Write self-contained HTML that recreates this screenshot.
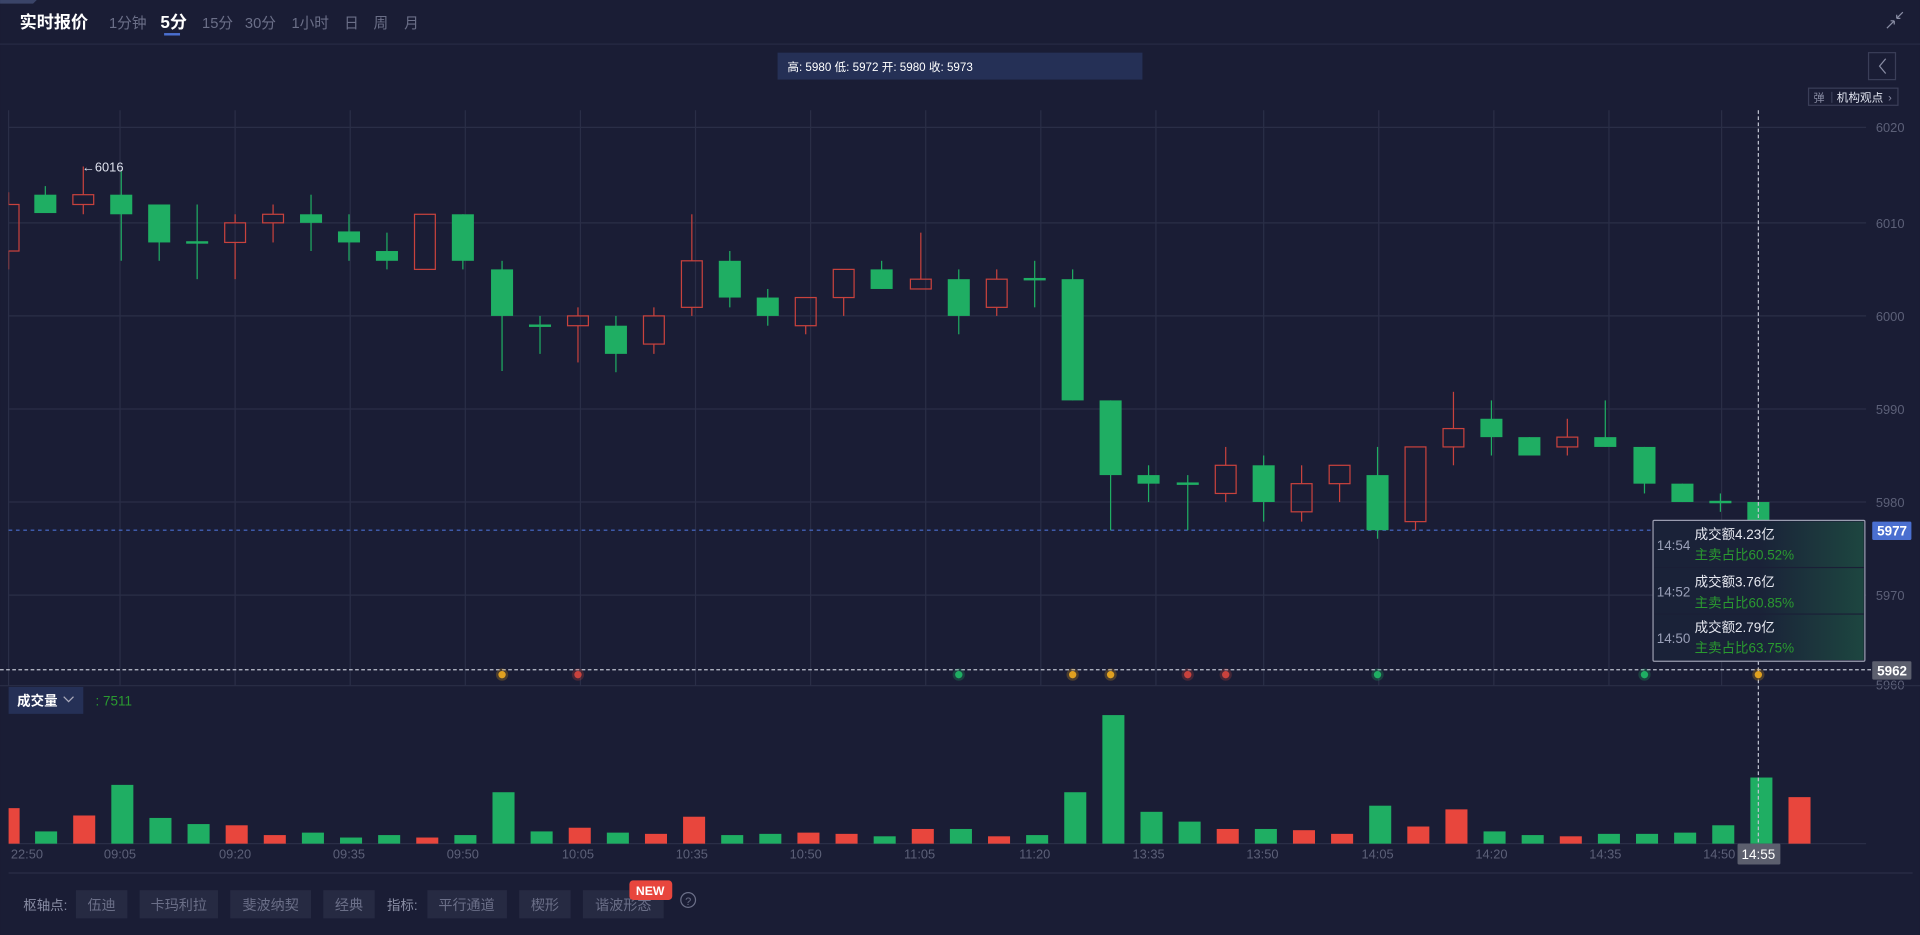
<!DOCTYPE html>
<html><head><meta charset="utf-8"><style>
html,body{margin:0;padding:0;background:#1a1d35;width:1920px;height:935px;overflow:hidden}
svg{display:block}
text{font-family:"Liberation Sans","Noto Sans CJK SC",sans-serif}
</style></head><body>
<svg id="s" width="1920" height="935" viewBox="0 0 1568 763.6" xmlns="http://www.w3.org/2000/svg">
<rect width="1568" height="764" fill="#1a1d35"/>
<defs><clipPath id="pc"><rect x="7" y="80" width="1530" height="620"/></clipPath>
<linearGradient id="tg" x1="0" x2="1"><stop offset="0.5" stop-color="#1a2238"/><stop offset="1" stop-color="#1d4640"/></linearGradient></defs>
<path d="M0 0H30L27 3H0Z" fill="#3a4468"/>
<text x="16" y="23" fill="#fff" font-size="14" font-weight="bold">实时报价</text>
<g fill="#6b6f88" font-size="12">
<text x="89" y="23">1分钟</text><text x="165" y="23">15分</text><text x="200" y="23">30分</text><text x="238" y="23">1小时</text><text x="281" y="23">日</text><text x="305" y="23">周</text><text x="330" y="23">月</text></g>
<text x="131" y="23" fill="#fff" font-size="14" font-weight="bold">5分</text>
<rect x="134" y="27" width="13" height="2" fill="#4a6fd0"/>
<path d="M1541 23l6-6M1547 17v3M1547 17h-3M1549 15l5-5M1549 15h3M1549 15v-3" stroke="#8a8ea5" stroke-width="1" fill="none"/>
<line x1="0" y1="36" x2="1568" y2="36" stroke="#262a44"/>
<rect x="635" y="43" width="298" height="22" fill="#253056"/>
<text x="643" y="58" fill="#fff" font-size="9.5">高: 5980 低: 5972 开: 5980 收: 5973</text>
<rect x="1526" y="43" width="22" height="22" fill="none" stroke="#3a3e58"/>
<path d="M1540 48l-5 6 5 6" stroke="#8a8ea5" fill="none"/>
<rect x="1477" y="72" width="73" height="14" fill="none" stroke="#3a3e58"/>
<text x="1481" y="83" fill="#8a8ea5" font-size="9">弹</text>
<line x1="1496" y1="75" x2="1496" y2="84" stroke="#3a3e58"/>
<text x="1500" y="83" fill="#dfe2ee" font-size="9.5">机构观点</text>
<text x="1542" y="83" fill="#8a8ea5" font-size="9">›</text>
<g id="grid" stroke="#2a2e47" stroke-width="1"></g>
<g fill="#5c6078" font-size="10.5">
<text x="1532" y="108">6020</text><text x="1532" y="186">6010</text><text x="1532" y="262">6000</text><text x="1532" y="338">5990</text><text x="1532" y="414">5980</text><text x="1532" y="490">5970</text><text x="1532" y="563">5960</text></g>
<line x1="7" y1="433" x2="1524" y2="433" stroke="#4a6fd0" stroke-dasharray="3,3"/>
<line x1="0" y1="547" x2="1528" y2="547" stroke="#bfc2d0" stroke-dasharray="3,2"/>
<line x1="0" y1="560" x2="1568" y2="560" stroke="#2a2e47"/>
<line x1="7" y1="689" x2="1524" y2="689" stroke="#2a2e47"/>
<line x1="7" y1="713" x2="1562" y2="713" stroke="#2a2e47"/>
<g id="c" clip-path="url(#pc)"></g>
<g id="v"></g>
<text x="67" y="140" fill="#dfe2ee" font-size="10.5">←6016</text>
<line x1="1436" y1="90" x2="1436" y2="705" stroke="#bfc2d0" stroke-dasharray="3,2"/>
<rect x="1529" y="426" width="32" height="15" fill="#4a6fd0" rx="1"/>
<text x="1533" y="437.5" fill="#fff" font-size="11" font-weight="bold">5977</text>
<rect x="1529" y="540" width="32" height="15" fill="#5c5f6e" rx="1"/>
<text x="1533" y="551.5" fill="#fff" font-size="11" font-weight="bold">5962</text>
<rect x="1350" y="425" width="173" height="115" fill="#1a1f36" stroke="#9a9db0" rx="1"/>
<rect x="1351" y="426" width="171" height="37" fill="url(#tg)"/>
<rect x="1351" y="464" width="171" height="37" fill="url(#tg)"/>
<rect x="1351" y="502" width="171" height="37" fill="url(#tg)"/>
<g font-size="11">
<text x="1353" y="449" fill="#9aa0b8">14:54</text><text x="1384" y="440" fill="#e6e8f0">成交额4.23亿</text><text x="1384" y="457" fill="#2a9a30">主卖占比60.52%</text>
<text x="1353" y="487" fill="#9aa0b8">14:52</text><text x="1384" y="479" fill="#e6e8f0">成交额3.76亿</text><text x="1384" y="496" fill="#2a9a30">主卖占比60.85%</text>
<text x="1353" y="525" fill="#9aa0b8">14:50</text><text x="1384" y="516" fill="#e6e8f0">成交额2.79亿</text><text x="1384" y="533" fill="#2a9a30">主卖占比63.75%</text></g>
<g id="sig"></g>
<rect x="7" y="561" width="61" height="22" fill="#253056"/>
<text x="14" y="576" fill="#fff" font-size="11" font-weight="bold">成交量</text>
<path d="M52 569l4 4 4-4" stroke="#aab" fill="none"/>
<text x="78" y="576" fill="#2a9a30" font-size="11">: 7511</text>
<g fill="#5c6078" font-size="10.5" text-anchor="middle">
<text x="22" y="701">22:50</text><text x="98" y="701">09:05</text><text x="192" y="701">09:20</text><text x="285" y="701">09:35</text><text x="378" y="701">09:50</text><text x="472" y="701">10:05</text><text x="565" y="701">10:35</text><text x="658" y="701">10:50</text><text x="751" y="701">11:05</text><text x="845" y="701">11:20</text><text x="938" y="701">13:35</text><text x="1031" y="701">13:50</text><text x="1125" y="701">14:05</text><text x="1218" y="701">14:20</text><text x="1311" y="701">14:35</text><text x="1404" y="701">14:50</text></g>
<rect x="1419" y="689" width="35" height="17" fill="#5c5f6e" rx="1"/>
<text x="1436" y="701.5" fill="#fff" font-size="11" text-anchor="middle">14:55</text>
<text x="19" y="743" fill="#8a8ea5" font-size="11">枢轴点:</text>
<g fill="#262a42"><rect x="62" y="727" width="42" height="23"/><rect x="114" y="727" width="64" height="23"/><rect x="188" y="727" width="66" height="23"/><rect x="264" y="727" width="42" height="23"/><rect x="349" y="727" width="65" height="23"/><rect x="424" y="727" width="42" height="23"/><rect x="476" y="727" width="66" height="23"/></g>
<g fill="#6b6f88" font-size="11.5" text-anchor="middle"><text x="83" y="743">伍迪</text><text x="146" y="743">卡玛利拉</text><text x="221" y="743">斐波纳契</text><text x="285" y="743">经典</text><text x="381" y="743">平行通道</text><text x="445" y="743">楔形</text><text x="509" y="743">谐波形态</text></g>
<text x="316" y="743" fill="#8a8ea5" font-size="11">指标:</text>
<rect x="514" y="719" width="35" height="16" rx="3" fill="#e8463d"/>
<text x="531" y="731" fill="#fff" font-size="10" font-weight="bold" text-anchor="middle">NEW</text>
<circle cx="562" cy="735" r="6" fill="none" stroke="#6b6f88"/>
<text x="562" y="739" fill="#6b6f88" font-size="9" text-anchor="middle">?</text>
</svg>
<script>
var NS="http://www.w3.org/2000/svg";
function el(p,t,a){var e=document.createElementNS(NS,t);for(var k in a)e.setAttribute(k,a[k]);p.appendChild(e);return e;}
var g=document.getElementById('grid');
[104,182,258,334,410,486].forEach(function(y){el(g,'line',{x1:7,y1:y,x2:1524,y2:y});});
[7,98,192,286,380,474,568,662,756,850,944,1032,1126,1220,1314,1406].forEach(function(x){el(g,'line',{x1:x,y1:90,x2:x,y2:560});});
var C=[[7,'r',167,205,157,220],[37,'g',159,174,152,174],[68,'r',159,167,136,175],[99,'g',159,175,140,213],[130,'g',167,198,167,213],[161,'g',197,199,167,228],[192,'r',182,198,175,228],[223,'r',175,182,167,198],[254,'g',175,182,159,205],[285,'g',189,198,175,213],[316,'g',205,213,190,220],[347,'r',175,220,175,220],[378,'g',175,213,175,220],[410,'g',220,258,213,303],[441,'g',265,267,258,289],[472,'r',258,266,251,296],[503,'g',266,289,258,304],[534,'r',258,281,251,289],[565,'r',213,251,175,258],[596,'g',213,243,205,251],[627,'g',243,258,236,266],[658,'r',243,266,243,273],[689,'r',220,243,220,258],[720,'g',220,236,213,236],[752,'r',228,236,190,236],[783,'g',228,258,220,273],[814,'r',228,251,220,258],[845,'g',227,229,213,251],[876,'g',228,327,220,327],[907,'g',327,388,327,433],[938,'g',388,395,380,410],[970,'g',394,396,388,433],[1001,'r',380,403,365,410],[1032,'g',380,410,372,426],[1063,'r',395,418,380,426],[1094,'r',380,395,380,410],[1125,'g',388,433,365,440],[1156,'r',365,426,365,433],[1187,'r',350,365,320,380],[1218,'g',342,357,327,372],[1249,'g',357,372,357,372],[1280,'r',357,365,342,372],[1311,'g',357,365,327,365],[1343,'g',365,395,365,403],[1374,'g',395,410,395,410],[1405,'g',409,411,403,418],[1436,'g',410,433,410,433]];
var c=document.getElementById('c');
C.forEach(function(d){var x=d[0],w=18;
 if(d[1]=='g'){el(c,'line',{x1:x,y1:d[4],x2:x,y2:d[5],stroke:'#1fae63'});el(c,'rect',{x:x-w/2,y:d[2],width:w,height:Math.max(1.5,d[3]-d[2]),fill:'#1fae63'});}
 else{el(c,'line',{x1:x,y1:d[4],x2:x,y2:d[2],stroke:'#c8423d'});el(c,'line',{x1:x,y1:d[3],x2:x,y2:d[5],stroke:'#c8423d'});el(c,'rect',{x:x-w/2+0.5,y:d[2],width:w-1,height:d[3]-d[2],fill:'none',stroke:'#c8423d'});}
});
var V=['r660','g679','r666','g641','g668','g673','r674','r682','g680','g684','g682','r684','g682','g647','g679','r676','g680','r681','r667','g682','g681','r680','r681','g683','r677','g677','r683','g682','g647','g584','g663','g671','r677','g677','r678','r681','g658','r675','r661','g679','g682','r683','g681','g681','g680','g674','g635','r651'];
var v=document.getElementById('v');
V.forEach(function(s,i){var x=6.5+31.13*i,top=+s.slice(1),col=s[0]=='g'?'#1fae63':'#e8463d';var x0=x-9,w=18;if(i==0){x0=7;w=9;}
 el(v,'rect',{x:x0,y:top,width:w,height:689-top,fill:col});});
var sg=document.getElementById('sig');
[[410,'#e0a020'],[472,'#c8423d'],[783,'#1fae63'],[876,'#e0a020'],[907,'#e0a020'],[970,'#c8423d'],[1001,'#c8423d'],[1125,'#1fae63'],[1343,'#1fae63'],[1436,'#e0a020']].forEach(function(d){
 el(sg,'circle',{cx:d[0],cy:551,r:5,fill:d[1],opacity:0.25});el(sg,'circle',{cx:d[0],cy:551,r:3,fill:d[1]});});
</script>
</body></html>
